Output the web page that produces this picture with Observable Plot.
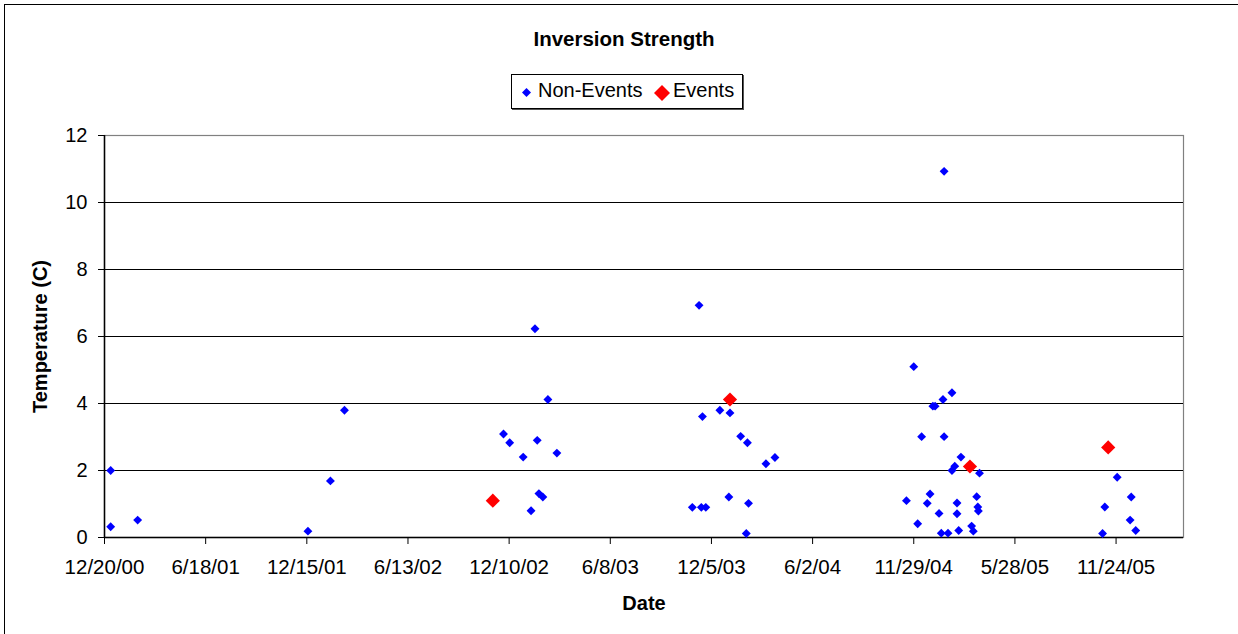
<!DOCTYPE html>
<html><head><meta charset="utf-8">
<script src="https://cdn.jsdelivr.net/npm/d3@7"></script>
<script src="https://cdn.jsdelivr.net/npm/@observablehq/plot@0.6"></script>
<style>
body{margin:0;background:#fff;font-family:"Liberation Sans",Arial,sans-serif;}
#wrap{position:relative;width:1238px;height:634px;overflow:hidden;background:#fff;}
#border{position:absolute;left:4px;top:4px;width:1400px;height:800px;border-left:1.5px solid #000;border-top:1.5px solid #000;pointer-events:none;}
#chart{position:absolute;left:0;top:0;}
#legend{position:absolute;left:511px;top:74px;width:230px;height:33px;border:1px solid #000;box-shadow:1px 1px 0 #555;background:#fff;}
.lt{position:absolute;top:3px;font-size:20px;line-height:24px;color:#000;white-space:nowrap;}
.ld{position:absolute;}
</style>
</head><body>
<div id="wrap">
  <div id="chart"></div>
  <div id="legend"></div>
  <div id="border"></div>
</div>
<script>
// ---- data ----
const nonEventDates = [
  "2000-12-31","2000-12-31","2001-02-17","2001-12-17","2002-01-26","2002-02-20",
  "2002-11-30","2002-12-11","2003-01-04","2003-01-18","2003-01-25","2003-01-29",
  "2003-02-01","2003-02-08","2003-02-17","2003-03-05",
  "2003-11-01","2003-11-13","2003-11-17","2003-11-19","2003-11-25","2003-12-20",
  "2004-01-05","2004-01-07","2004-01-26","2004-02-05","2004-02-07","2004-02-09",
  "2004-03-11","2004-03-27",
  "2004-11-16","2004-11-29","2004-12-06","2004-12-13","2004-12-23","2004-12-28",
  "2005-01-02","2005-01-06","2005-01-13","2005-01-17","2005-01-20","2005-01-22",
  "2005-01-22","2005-01-29","2005-02-05","2005-02-05","2005-02-10","2005-02-14",
  "2005-02-14","2005-02-17","2005-02-21","2005-03-12","2005-03-15","2005-03-21",
  "2005-03-23","2005-03-24","2005-03-26",
  "2005-10-31","2005-11-04","2005-11-26","2005-12-19","2005-12-21","2005-12-29"
];
const nonEventValues = [
  2.0, 0.32, 0.52, 0.19, 1.69, 3.8,
  3.09, 2.83, 2.4, 0.8, 6.23, 2.9,
  1.31, 1.21, 4.12, 2.52,
  0.9, 6.93, 0.9, 3.61, 0.9, 3.8,
  1.21, 3.72, 3.02, 0.12, 2.83, 1.02,
  2.2, 2.39,
  1.1, 5.1, 0.41, 3.01, 1.02, 1.3,
  3.92, 3.92, 0.72, 0.13, 4.12, 3.01,
  10.93, 0.13, 4.32, 2.0, 2.13, 1.03,
  0.71, 0.21, 2.4, 0.34, 0.19, 1.22,
  0.91, 0.79, 1.92,
  0.12, 0.91, 1.8, 0.52, 1.21, 0.21
];
const eventDates = ["2002-11-11","2004-01-07","2005-03-09","2005-11-10"];
const eventValues = [1.1, 4.12, 2.12, 2.69];
const xTickDates = ["2000-12-20","2001-06-18","2001-12-15","2002-06-13","2002-12-10",
  "2003-06-08","2003-12-05","2004-06-02","2004-11-29","2005-05-28","2005-11-24"];
const xDomain = ["2000-12-20","2006-03-24"];
const yTicks = [0,2,4,6,8,10,12];
const gridValues = [2,4,6,8,10];
const seriesNames = ["Non-Events","Events"];
const seriesColors = ["#0000ff","#ff0000"];
const titleText = "Inversion Strength";
const xLabel = "Date";
const yLabel = "Temperature (C)";

// ---- build tables ----
const nonEvents = nonEventDates.map((d,i)=>({date:new Date(d), value:nonEventValues[i]}));
const events = eventDates.map((d,i)=>({date:new Date(d), value:eventValues[i]}));
const fmt = d3.utcFormat("%-m/%-d/%y");
const font = '"Liberation Sans", Arial, sans-serif';

const chart = Plot.plot({
  width:1238, height:634,
  marginLeft:104, marginRight:55, marginTop:135, marginBottom:97,
  style:{fontFamily:font, fontSize:"20px", color:"#000", background:"transparent", overflow:"visible"},
  x:{type:"utc", domain:xDomain.map(d=>new Date(d))},
  y:{domain:[0,12]},
  marks:[
    Plot.frame({stroke:"#808080", strokeWidth:1.2}),
    Plot.ruleY(gridValues, {stroke:"#000", strokeWidth:1}),
    Plot.ruleY([0], {stroke:"#000", strokeWidth:1.5}),
    Plot.ruleX([new Date(xDomain[0])], {stroke:"#000", strokeWidth:1.5}),
    Plot.axisY({ticks:yTicks, tickSize:6, tickPadding:11, label:null, fontSize:20, stroke:"#000"}),
    Plot.axisX({ticks:xTickDates.map(d=>new Date(d)), tickFormat:fmt, tickSize:7, tickPadding:15, label:null, fontSize:20.5}),
    Plot.dot(nonEvents, {x:"date", y:"value", symbol:"diamond2", r:4, fill:seriesColors[0]}),
    Plot.dot(events, {x:"date", y:"value", symbol:"diamond2", r:6.4, fill:seriesColors[1]}),
    Plot.text([yLabel], {text:d=>d, frameAnchor:"left", textAnchor:"middle", lineAnchor:"middle", dx:-64, rotate:-90, fontWeight:"bold", fontSize:20}),
    Plot.text([xLabel], {text:d=>d, frameAnchor:"bottom", textAnchor:"middle", lineAnchor:"middle", dy:66, fontWeight:"bold", fontSize:20}),
    Plot.text([titleText], {text:d=>d, frameAnchor:"top", textAnchor:"middle", lineAnchor:"middle", dx:-20, dy:-96, fontWeight:"bold", fontSize:20.5})
  ]
});
document.getElementById("chart").appendChild(chart);

// ---- legend ----
const legend = document.getElementById("legend");
const items = [
  {name:seriesNames[0], color:seriesColors[0], size:9, cx:14, tx:26},
  {name:seriesNames[1], color:seriesColors[1], size:16, cx:150, tx:161}
];
for (const it of items) {
  const s = document.createElementNS("http://www.w3.org/2000/svg","svg");
  s.setAttribute("width", it.size); s.setAttribute("height", it.size);
  s.setAttribute("class","ld");
  s.style.left = (it.cx - it.size/2) + "px";
  s.style.top = (17.5 - it.size/2) + "px";
  const h = it.size/2;
  const p = document.createElementNS("http://www.w3.org/2000/svg","polygon");
  p.setAttribute("points", `${h},0 ${it.size},${h} ${h},${it.size} 0,${h}`);
  p.setAttribute("fill", it.color);
  s.appendChild(p);
  legend.appendChild(s);
  const t = document.createElement("div");
  t.className = "lt"; t.style.left = it.tx + "px"; t.textContent = it.name;
  legend.appendChild(t);
}
</script>
</body></html>
